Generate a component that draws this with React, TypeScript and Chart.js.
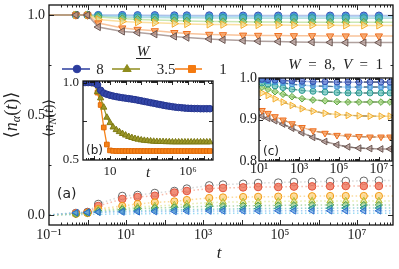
import React, { useEffect, useRef } from 'react';
import { Chart, registerables } from 'chart.js';
Chart.register(...registerables);

// ---------- panel (a): main ----------
const mainTimes = [0.1, 0.5, 1, 1.9, 8, 20, 56, 180, 380, 1450, 3300, 11000, 27000, 90000, 230000, 680000, 2000000, 5100000, 15000000, 37000000, 86000000];
const upDarkBlue = [1, 1, 1, 1, 1, 0.999, 0.999, 0.998, 0.998, 0.998, 0.997, 0.997, 0.997, 0.997, 0.997, 0.997, 0.997, 0.997, 0.997, 0.997, 0.997];
const upBlue = [1, 1, 1, 0.998, 0.996, 0.995, 0.994, 0.993, 0.993, 0.992, 0.992, 0.992, 0.991, 0.991, 0.991, 0.991, 0.991, 0.991, 0.991, 0.991, 0.991];
const upTeal = [1, 1, 1, 0.995, 0.99, 0.988, 0.987, 0.986, 0.986, 0.985, 0.985, 0.985, 0.984, 0.984, 0.984, 0.984, 0.984, 0.984, 0.984, 0.984, 0.984];
const upGreen = [1, 1, 1, 0.99, 0.982, 0.978, 0.975, 0.972, 0.97, 0.968, 0.967, 0.966, 0.965, 0.965, 0.964, 0.964, 0.964, 0.964, 0.964, 0.964, 0.964];
const upLightOrange = [1, 1, 1, 0.978, 0.968, 0.964, 0.961, 0.957, 0.955, 0.953, 0.952, 0.951, 0.95, 0.95, 0.949, 0.949, 0.949, 0.948, 0.948, 0.948, 0.948];
const upOrange = [1, 1, 1, 0.96, 0.935, 0.928, 0.921, 0.912, 0.907, 0.903, 0.901, 0.899, 0.898, 0.897, 0.896, 0.896, 0.895, 0.895, 0.895, 0.895, 0.895];
const upBrown = [1, 1, 1, 0.94, 0.918, 0.912, 0.904, 0.893, 0.887, 0.88, 0.876, 0.872, 0.869, 0.867, 0.865, 0.864, 0.863, 0.862, 0.862, 0.862, 0.862];
const loGray = [0, 0.01, 0.015, 0.055, 0.095, 0.1, 0.11, 0.12, 0.132, 0.148, 0.152, 0.156, 0.16, 0.162, 0.165, 0.166, 0.168, 0.17, 0.171, 0.172, 0.172];
const loRed = [0, 0.008, 0.012, 0.045, 0.08, 0.09, 0.096, 0.112, 0.12, 0.132, 0.135, 0.138, 0.14, 0.14, 0.142, 0.143, 0.144, 0.145, 0.145, 0.145, 0.145];
const loOrange = [0, 0.006, 0.01, 0.03, 0.045, 0.055, 0.063, 0.068, 0.075, 0.085, 0.088, 0.09, 0.091, 0.092, 0.093, 0.094, 0.095, 0.095, 0.095, 0.095, 0.095];
const loOlive = [0, 0.005, 0.01, 0.025, 0.035, 0.04, 0.045, 0.05, 0.055, 0.062, 0.064, 0.066, 0.067, 0.068, 0.069, 0.07, 0.07, 0.07, 0.07, 0.07, 0.07];
const loGreen = [0, 0.005, 0.01, 0.02, 0.028, 0.032, 0.035, 0.038, 0.04, 0.044, 0.045, 0.046, 0.047, 0.048, 0.049, 0.05, 0.05, 0.05, 0.05, 0.05, 0.05];
const loTeal = [0, 0.01, 0.012, 0.015, 0.02, 0.022, 0.024, 0.026, 0.027, 0.029, 0.03, 0.031, 0.032, 0.033, 0.033, 0.034, 0.034, 0.035, 0.035, 0.035, 0.035];
const loBlue = [0, 0.012, 0.013, 0.014, 0.015, 0.016, 0.017, 0.018, 0.019, 0.02, 0.02, 0.02, 0.02, 0.021, 0.021, 0.021, 0.021, 0.021, 0.021, 0.021, 0.021];
const loCyan = [0, 0.002, 0.003, 0.004, 0.005, 0.006, 0.007, 0.007, 0.008, 0.008, 0.008, 0.009, 0.009, 0.009, 0.009, 0.009, 0.009, 0.009, 0.009, 0.009, 0.009];
const mainYTicks = [0, 0.5, 1];
const mainXTickExps = [-1, 1, 3, 5, 7];

// ---------- panel (b): inset ----------
const insetBLogT = [-0.6, -0.4, -0.2, 0, 0.2, 0.4, 0.6, 0.8, 1.0, 1.2, 1.4, 1.6, 1.8, 2.0, 2.2, 2.4, 2.6, 2.8, 3.0, 3.2, 3.4, 3.6, 3.8, 4.0, 4.2, 4.4, 4.6, 4.8, 5.0, 5.2, 5.4, 5.6, 5.8, 6.0, 6.2, 6.4, 6.6, 6.8, 7.0, 7.2, 7.4];
const nW8 = [1, 1, 1, 0.998, 0.985, 0.95, 0.932, 0.924, 0.918, 0.913, 0.909, 0.905, 0.902, 0.899, 0.896, 0.893, 0.89, 0.886, 0.882, 0.878, 0.874, 0.87, 0.866, 0.862, 0.858, 0.854, 0.85, 0.847, 0.844, 0.841, 0.839, 0.837, 0.835, 0.834, 0.833, 0.832, 0.832, 0.831, 0.831, 0.831, 0.831];
const nW35 = [1, 1, 1, 0.99, 0.94, 0.9, 0.84, 0.775, 0.74, 0.712, 0.695, 0.682, 0.67, 0.66, 0.651, 0.644, 0.638, 0.633, 0.629, 0.626, 0.624, 0.622, 0.62, 0.619, 0.618, 0.618, 0.617, 0.617, 0.616, 0.616, 0.616, 0.616, 0.616, 0.616, 0.616, 0.616, 0.616, 0.616, 0.616, 0.616, 0.616];
const nW1 = [1, 1, 1, 0.995, 0.935, 0.855, 0.71, 0.6, 0.562, 0.559, 0.558, 0.558, 0.558, 0.558, 0.558, 0.558, 0.558, 0.558, 0.558, 0.558, 0.558, 0.558, 0.558, 0.558, 0.558, 0.558, 0.558, 0.558, 0.558, 0.558, 0.558, 0.558, 0.558, 0.558, 0.558, 0.558, 0.558, 0.558, 0.558, 0.558, 0.558];
const legendLabels = ['8', '3.5', '1'];

// ---------- panel (c): inset ----------
const insetCLogT = [1.0, 1.15, 1.45, 1.8, 2.2, 2.65, 3.15, 3.7, 4.3, 4.9, 5.45, 6.0, 6.55, 7.1, 7.55, 7.65];
const cDarkBlue = [0.998, 0.997, 0.996, 0.995, 0.994, 0.993, 0.992, 0.991, 0.991, 0.99, 0.99, 0.99, 0.99, 0.99, 0.99, 0.99];
const cBlue = [0.995, 0.994, 0.992, 0.99, 0.988, 0.985, 0.983, 0.981, 0.98, 0.979, 0.978, 0.978, 0.978, 0.978, 0.978, 0.978];
const cTeal = [0.99, 0.988, 0.985, 0.981, 0.977, 0.973, 0.97, 0.968, 0.966, 0.965, 0.964, 0.964, 0.964, 0.964, 0.964, 0.964];
const cGreen = [0.98, 0.978, 0.973, 0.967, 0.961, 0.955, 0.95, 0.947, 0.945, 0.943, 0.942, 0.942, 0.942, 0.942, 0.942, 0.942];
const cLightOrange = [0.968, 0.964, 0.958, 0.95, 0.942, 0.934, 0.926, 0.92, 0.915, 0.912, 0.91, 0.909, 0.908, 0.908, 0.908, 0.908];
const cOrange = [0.926, 0.922, 0.915, 0.907, 0.899, 0.89, 0.881, 0.873, 0.867, 0.862, 0.86, 0.859, 0.858, 0.858, 0.858, 0.858];
const cBrown = [0.912, 0.908, 0.903, 0.897, 0.889, 0.879, 0.868, 0.857, 0.847, 0.839, 0.834, 0.831, 0.83, 0.829, 0.829, 0.829];

// ---------- helpers ----------
const SERIF = '"Liberation Serif", "DejaVu Serif", serif';
const SANS = '"DejaVu Sans", sans-serif';
const SUP: Record<string, string> = { '-': '\u207B', '0': '\u2070', '1': '\u00B9', '2': '\u00B2', '3': '\u00B3', '4': '\u2074', '5': '\u2075', '6': '\u2076', '7': '\u2077', '8': '\u2078', '9': '\u2079' };
const pow10Label = (e: number) => '10' + String(e).split('').map((c) => SUP[c]).join('');

function logMinors(lo: number, hi: number) {
  const out: number[] = [];
  for (let n = lo; n <= hi; n++) for (let k = 2; k <= 9; k++) out.push(k * Math.pow(10, n));
  return out;
}
function decades(lo: number, hi: number) {
  const out: number[] = [];
  for (let n = lo; n <= hi; n++) out.push(Math.pow(10, n));
  return out;
}

type Style = { edge: string; fill: string; line: string; shape: string; rot?: number; r: number; dash?: number[]; lw?: number; hideEnds?: 'first' | 'both' | 'none' };
function series(times: number[], vals: number[], s: Style) {
  const n = vals.length;
  return {
    data: vals.map((v, i) => ({ x: times[i], y: v })),
    borderColor: s.line,
    borderWidth: s.lw ?? 1.5,
    borderDash: s.dash ?? [],
    pointStyle: s.shape,
    pointRotation: s.rot ?? 0,
    pointRadius: (c: any) => {
      const i = c.dataIndex;
      if (s.hideEnds === 'both' && (i === 0 || i === n - 1)) return 0;
      if (s.hideEnds === 'first' && i === 0) return 0;
      return s.r;
    },
    pointBorderColor: s.edge,
    pointBackgroundColor: s.fill,
    pointBorderWidth: 1,
    tension: 0,
    fill: false,
  };
}

type Part = [string, string, number];
function drawRich(ctx: CanvasRenderingContext2D, x: number, y: number, parts: Part[], align: 'left' | 'center' | 'right') {
  let w = 0;
  for (const [t, f] of parts) { ctx.font = f; w += ctx.measureText(t).width; }
  let cx = align === 'left' ? x : align === 'center' ? x - w / 2 : x - w;
  ctx.textAlign = 'left';
  ctx.textBaseline = 'alphabetic';
  for (const [t, f, dy] of parts) { ctx.font = f; ctx.fillText(t, cx, y + dy); cx += ctx.measureText(t).width; }
}

type Deco = { xMajor: number[]; xMinor: number[]; yMajor: number[]; yMinor: number[]; majLen: number; minLen: number; white?: boolean; extra?: (c: any) => void };
function decoPlugin(d: Deco) {
  return {
    id: 'deco',
    beforeDraw(chart: any) {
      if (!d.white) return;
      const { ctx, chartArea: a } = chart;
      ctx.save();
      ctx.fillStyle = '#fff';
      ctx.fillRect(a.left, a.top, a.right - a.left, a.bottom - a.top);
      ctx.restore();
    },
    afterDraw(chart: any) {
      const { ctx, chartArea: a, scales } = chart;
      const xs = scales.x, ys = scales.y;
      ctx.save();
      ctx.strokeStyle = '#111';
      ctx.lineWidth = 0.9;
      ctx.beginPath();
      const tickX = (v: number, len: number) => {
        const p = Math.round(xs.getPixelForValue(v)) + 0.5;
        if (p < a.left + 1 || p > a.right - 1) return;
        ctx.moveTo(p, a.bottom); ctx.lineTo(p, a.bottom - len);
        ctx.moveTo(p, a.top); ctx.lineTo(p, a.top + len);
      };
      const tickY = (v: number, len: number) => {
        const p = Math.round(ys.getPixelForValue(v)) + 0.5;
        if (p < a.top + 1 || p > a.bottom - 1) return;
        ctx.moveTo(a.left, p); ctx.lineTo(a.left + len, p);
        ctx.moveTo(a.right, p); ctx.lineTo(a.right - len, p);
      };
      d.xMajor.forEach((v) => tickX(v, d.majLen));
      d.xMinor.forEach((v) => tickX(v, d.minLen));
      d.yMajor.forEach((v) => tickY(v, d.majLen));
      d.yMinor.forEach((v) => tickY(v, d.minLen));
      ctx.stroke();
      ctx.lineWidth = 1.3;
      ctx.strokeRect(a.left, a.top, a.right - a.left, a.bottom - a.top);
      ctx.restore();
      if (d.extra) { ctx.save(); ctx.fillStyle = '#222'; d.extra(chart); ctx.restore(); }
    },
  };
}

function baseOptions(W: number, H: number, box: { left: number; top: number; right: number; bottom: number }, x: any, y: any) {
  return {
    responsive: false,
    maintainAspectRatio: false,
    animation: false,
    devicePixelRatio: 1,
    events: [],
    layout: { padding: { top: box.top, right: W - box.right, left: 0, bottom: 0 } },
    plugins: { legend: { display: false }, tooltip: { enabled: false } },
    scales: {
      x: {
        ...x,
        grid: { display: false, drawTicks: false },
        border: { display: false },
        afterFit: (s: any) => { s.height = H - box.bottom; s.paddingLeft = 0; s.paddingRight = 0; },
      },
      y: {
        ...y,
        grid: { display: false, drawTicks: false },
        border: { display: false },
        afterFit: (s: any) => { s.width = box.left; s.paddingTop = 0; s.paddingBottom = 0; },
      },
    },
  };
}

// colours
const C = {
  darkBlue: '#3550b0', blue: '#3a8fd8', teal: '#2a9a94', green: '#5fa843', lightOrange: '#f5ad2c', orange: '#ee6e1e', brown: '#6a5550',
};

function mainConfig(): any {
  const W = 399, H = 269;
  const box = { left: 49, top: 5, right: 393, bottom: 225 };
  const up = [
    series(mainTimes, upBrown, { edge: C.brown, fill: 'rgba(175,150,145,0.7)', line: 'rgba(150,130,125,0.75)', shape: 'triangle', rot: 270, r: 4.2, hideEnds: 'both' }),
    series(mainTimes, upOrange, { edge: C.orange, fill: 'rgba(245,150,80,0.7)', line: 'rgba(245,175,120,0.75)', shape: 'triangle', rot: 180, r: 4.2, hideEnds: 'both' }),
    series(mainTimes, upLightOrange, { edge: C.lightOrange, fill: 'rgba(255,230,160,0.6)', line: 'rgba(250,210,120,0.7)', shape: 'triangle', rot: 90, r: 4.2, hideEnds: 'both' }),
    series(mainTimes, upGreen, { edge: C.green, fill: 'rgba(150,205,110,0.65)', line: 'rgba(165,215,130,0.6)', shape: 'rectRot', r: 3.8, hideEnds: 'both' }),
    series(mainTimes, upTeal, { edge: C.teal, fill: 'rgba(80,185,175,0.65)', line: 'rgba(120,200,195,0.55)', shape: 'circle', r: 3.6, hideEnds: 'both' }),
    series(mainTimes, upBlue, { edge: C.blue, fill: 'rgba(90,170,235,0.7)', line: 'rgba(130,195,240,0.55)', shape: 'circle', r: 3.6, hideEnds: 'both' }),
    series(mainTimes, upDarkBlue, { edge: C.darkBlue, fill: 'rgba(70,100,200,0.75)', line: 'rgba(120,145,215,0.55)', shape: 'circle', r: 3.6, hideEnds: 'both' }),
  ];
  const dot = [1.5, 2.5];
  const lo = [
    series(mainTimes, loBlue, { edge: '#2c6ccc', fill: 'rgba(90,150,230,0.6)', line: 'rgba(140,190,240,0.8)', shape: 'triangle', rot: 270, r: 3.8, dash: dot, hideEnds: 'both' }),
    series(mainTimes, loTeal, { edge: '#21908c', fill: 'rgba(90,185,180,0.6)', line: 'rgba(130,205,200,0.8)', shape: 'triangle', rot: 270, r: 3.8, dash: dot, hideEnds: 'both' }),
    series(mainTimes, loGreen, { edge: '#4c9a50', fill: 'rgba(140,200,130,0.6)', line: 'rgba(160,210,150,0.8)', shape: 'rectRot', r: 3.6, dash: dot, hideEnds: 'both' }),
    series(mainTimes, loOlive, { edge: '#b3bb35', fill: 'rgba(215,220,120,0.6)', line: 'rgba(225,230,150,0.8)', shape: 'triangle', r: 3.8, dash: dot, hideEnds: 'both' }),
    series(mainTimes, loOrange, { edge: '#f29a12', fill: 'rgba(250,200,100,0.6)', line: 'rgba(250,210,130,0.8)', shape: 'circle', r: 3.6, dash: dot, hideEnds: 'both' }),
    series(mainTimes, loRed, { edge: '#e2533c', fill: 'rgba(240,125,100,0.85)', line: 'rgba(245,170,150,0.8)', shape: 'circle', r: 3.8, dash: dot, hideEnds: 'both' }),
    series(mainTimes, loGray, { edge: '#666', fill: 'rgba(255,255,255,0.85)', line: 'rgba(200,200,200,0.7)', shape: 'circle', r: 3.8, dash: dot, hideEnds: 'both' }),
    series(mainTimes, loCyan, { edge: '#88d3ee', fill: '#88d3ee', line: 'rgba(130,210,240,0.8)', shape: 'circle', r: 0, dash: dot, hideEnds: 'both' }),
  ];
  const extra = (chart: any) => {
    const ctx: CanvasRenderingContext2D = chart.ctx;
    // y-axis title
    ctx.save();
    ctx.translate(17, 115);
    ctx.rotate(-Math.PI / 2);
    drawRich(ctx, 0, 0, [['\u27E8', `18px ${SERIF}`, 0], ['n', `italic 18px ${SERIF}`, 0], ['\u03B1', `italic 12px ${SERIF}`, 3], ['(', `18px ${SERIF}`, 0], ['t', `italic 18px ${SERIF}`, 0], [')\u27E9', `18px ${SERIF}`, 0]], 'center');
    ctx.restore();
    // x-axis title
    drawRich(ctx, 219, 258, [['t', `italic 17px ${SERIF}`, 0]], 'center');
    // panel label
    drawRich(ctx, 57, 198, [['(a)', `14px ${SANS}`, 0]], 'left');
    // annotation
    drawRich(ctx, 383, 69, [['W', `italic 15px ${SERIF}`, 0], ['\u2002=\u20028,  ', `15px ${SERIF}`, 0], ['V', `italic 15px ${SERIF}`, 0], ['\u2002=\u20021', `15px ${SERIF}`, 0]], 'right');
    // legend
    drawRich(ctx, 143, 56, [['W', `italic 15px ${SERIF}`, 0]], 'center');
    ctx.strokeStyle = '#222'; ctx.lineWidth = 1;
    ctx.beginPath(); ctx.moveTo(136, 58.5); ctx.lineTo(151, 58.5); ctx.stroke();
    const items = [
      { x0: 62, x1: 90, m: 77, col: '#2b3c9e', shape: 'circle', label: legendLabels[0], lx: 100 },
      { x0: 112, x1: 140, m: 127, col: '#8f8c1e', shape: 'tri', label: legendLabels[1], lx: 166 },
      { x0: 175, x1: 202, m: 192, col: '#f47a10', shape: 'rect', label: legendLabels[2], lx: 223 },
    ];
    const ly = 69;
    for (const it of items) {
      ctx.strokeStyle = it.col; ctx.lineWidth = 1.5;
      ctx.beginPath(); ctx.moveTo(it.x0, ly); ctx.lineTo(it.x1, ly); ctx.stroke();
      ctx.fillStyle = it.col; ctx.strokeStyle = it.col; ctx.lineWidth = 1;
      ctx.beginPath();
      if (it.shape === 'circle') ctx.arc(it.m, ly, 3.8, 0, Math.PI * 2);
      else if (it.shape === 'rect') ctx.rect(it.m - 3.5, ly - 3.5, 7, 7);
      else { ctx.moveTo(it.m, ly - 4.5); ctx.lineTo(it.m + 4.2, ly + 2.5); ctx.lineTo(it.m - 4.2, ly + 2.5); ctx.closePath(); }
      ctx.fill(); ctx.stroke();
      ctx.fillStyle = '#222';
      drawRich(ctx, it.lx, ly + 5, [[it.label, `15px ${SERIF}`, 0]], 'center');
    }
  };
  const opts = baseOptions(W, H, box,
    {
      type: 'logarithmic', min: mainTimes[0], max: mainTimes[mainTimes.length - 1],
      afterBuildTicks: (s: any) => { s.ticks = mainXTickExps.map((e) => ({ value: Math.pow(10, e) })); },
      ticks: { callback: (v: any) => pow10Label(Math.round(Math.log10(v))), font: { family: SERIF, size: 14 }, color: '#222', padding: 2, maxRotation: 0, autoSkip: false },
    },
    {
      type: 'linear', min: -0.05, max: 1.05,
      afterBuildTicks: (s: any) => { s.ticks = mainYTicks.map((v) => ({ value: v })); },
      ticks: { callback: (v: any) => Number(v).toFixed(1), font: { family: SERIF, size: 14 }, color: '#222', padding: 4 },
    });
  return {
    type: 'line',
    data: { datasets: [...up, ...lo] },
    options: opts,
    plugins: [decoPlugin({ xMajor: decades(-1, 7), xMinor: logMinors(-1, 7), yMajor: mainYTicks, yMinor: [0.25, 0.75], majLen: 5, minLen: 2.5, extra })],
  };
}

function insetBConfig(): any {
  const W = 178, H = 122;
  const box = { left: 43, top: 16, right: 173, bottom: 95 };
  const t = insetBLogT.map((l) => Math.pow(10, l));
  const ds = [
    series(t, nW8, { edge: '#25358f', fill: '#3346a8', line: '#3346a8', shape: 'circle', r: 3.3, lw: 1.3, hideEnds: 'none' }),
    series(t, nW35, { edge: '#7e7b14', fill: '#9a9628', line: '#9a9628', shape: 'triangle', r: 3.6, lw: 1.3, hideEnds: 'none' }),
    series(t, nW1, { edge: '#e06a08', fill: '#f58218', line: '#f58218', shape: 'rect', r: 3.3, lw: 1.3, hideEnds: 'none' }),
  ];
  const extra = (chart: any) => {
    const ctx: CanvasRenderingContext2D = chart.ctx;
    ctx.save();
    ctx.translate(13, 53);
    ctx.rotate(-Math.PI / 2);
    drawRich(ctx, 0, 0, [['\u27E8', `14px ${SERIF}`, 0], ['n', `italic 14px ${SERIF}`, 0], ['N', `italic 10px ${SERIF}`, 3], ['(', `14px ${SERIF}`, 0], ['t', `italic 14px ${SERIF}`, 0], [')\u27E9', `14px ${SERIF}`, 0]], 'center');
    ctx.restore();
    drawRich(ctx, 108, 112, [['t', `italic 15px ${SERIF}`, 0]], 'center');
    drawRich(ctx, 46, 89, [['(b)', `12px ${SANS}`, 0]], 'left');
  };
  const opts = baseOptions(W, H, box,
    {
      type: 'logarithmic', min: Math.pow(10, -0.73), max: Math.pow(10, 7.6),
      afterBuildTicks: (s: any) => { s.ticks = [{ value: 10 }, { value: 1e6 }]; },
      ticks: { callback: (v: any) => (v === 10 ? '10' : pow10Label(Math.round(Math.log10(v)))), font: { family: SERIF, size: 13 }, color: '#222', padding: 4, maxRotation: 0, autoSkip: false },
    },
    {
      type: 'linear', min: 0.5, max: 1.01,
      afterBuildTicks: (s: any) => { s.ticks = [{ value: 0.5 }, { value: 1.0 }]; },
      ticks: { callback: (v: any) => Number(v).toFixed(1), font: { family: SERIF, size: 13 }, color: '#222', padding: 4 },
    });
  return {
    type: 'line',
    data: { datasets: ds },
    options: opts,
    plugins: [decoPlugin({ xMajor: decades(0, 7), xMinor: logMinors(-1, 7), yMajor: [0.5, 0.75, 1.0], yMinor: [], majLen: 4, minLen: 2, white: true, extra })],
  };
}

function insetCConfig(): any {
  const W = 174, H = 115;
  const box = { left: 34, top: 8, right: 167, bottom: 91 };
  const t = insetCLogT.map((l) => Math.pow(10, l));
  const list: Array<[number[], Style]> = [
    [cDarkBlue, { edge: C.darkBlue, fill: 'rgba(70,100,200,0.6)', line: 'rgba(120,145,215,0.6)', shape: 'circle', r: 3, hideEnds: 'both' }],
    [cBlue, { edge: C.blue, fill: 'rgba(90,170,235,0.6)', line: 'rgba(130,195,240,0.6)', shape: 'rect', r: 3, hideEnds: 'both' }],
    [cTeal, { edge: C.teal, fill: 'rgba(80,185,175,0.6)', line: 'rgba(120,200,195,0.6)', shape: 'circle', r: 3, hideEnds: 'both' }],
    [cGreen, { edge: C.green, fill: 'rgba(150,205,110,0.65)', line: 'rgba(165,215,130,0.7)', shape: 'rectRot', r: 3.3, hideEnds: 'both' }],
    [cLightOrange, { edge: C.lightOrange, fill: 'rgba(255,230,160,0.6)', line: 'rgba(250,210,120,0.8)', shape: 'triangle', rot: 90, r: 3.8, hideEnds: 'both' }],
    [cOrange, { edge: C.orange, fill: 'rgba(245,150,80,0.7)', line: 'rgba(245,175,120,0.8)', shape: 'triangle', rot: 180, r: 3.8, hideEnds: 'both' }],
    [cBrown, { edge: C.brown, fill: 'rgba(175,150,145,0.7)', line: 'rgba(150,130,125,0.8)', shape: 'triangle', rot: 270, r: 3.8, hideEnds: 'both' }],
  ];
  const markers = list.map(([v, s]) => series(t, v, s));
  const fits = list.map(([v]) => ({
    data: v.map((y, i) => ({ x: t[i], y })).filter((_, i) => i >= 4),
    borderColor: '#000', borderWidth: 1.1, borderDash: [5, 4], pointRadius: 0, tension: 0, fill: false,
  }));
  const extra = (chart: any) => {
    drawRich(chart.ctx, 38, 85, [['(c)', `12px ${SANS}`, 0]], 'left');
  };
  const opts = baseOptions(W, H, box,
    {
      type: 'logarithmic', min: 10, max: Math.pow(10, 7.65),
      afterBuildTicks: (s: any) => { s.ticks = [1, 3, 5, 7].map((e) => ({ value: Math.pow(10, e) })); },
      ticks: { callback: (v: any) => pow10Label(Math.round(Math.log10(v))), font: { family: SERIF, size: 14 }, color: '#222', padding: 0, maxRotation: 0, autoSkip: false },
    },
    {
      type: 'linear', min: 0.8, max: 1.0,
      afterBuildTicks: (s: any) => { s.ticks = [0.8, 0.9, 1.0].map((v) => ({ value: v })); },
      ticks: { callback: (v: any) => Number(v).toFixed(1), font: { family: SERIF, size: 14 }, color: '#222', padding: 2 },
    });
  return {
    type: 'line',
    data: { datasets: [...markers, ...fits] },
    options: opts,
    plugins: [decoPlugin({ xMajor: decades(1, 7), xMinor: logMinors(1, 7), yMajor: [0.8, 0.9, 1.0], yMinor: [0.85, 0.95], majLen: 4, minLen: 2, white: true, extra })],
  };
}

export default function App() {
  const mainRef = useRef<HTMLCanvasElement>(null);
  const bRef = useRef<HTMLCanvasElement>(null);
  const cRef = useRef<HTMLCanvasElement>(null);
  useEffect(() => {
    document.body.style.margin = '0';
    const charts = [
      new Chart(mainRef.current as HTMLCanvasElement, mainConfig()),
      new Chart(bRef.current as HTMLCanvasElement, insetBConfig()),
      new Chart(cRef.current as HTMLCanvasElement, insetCConfig()),
    ];
    return () => charts.forEach((c) => c.destroy());
  }, []);
  return (
    <div style={{ position: 'relative', width: 399, height: 269, background: '#fff', overflow: 'hidden' }}>
      <canvas ref={mainRef} width={399} height={269} style={{ position: 'absolute', left: 0, top: 0, width: 399, height: 269 }} />
      <canvas ref={bRef} width={178} height={122} style={{ position: 'absolute', left: 40, top: 65, width: 178, height: 122 }} />
      <canvas ref={cRef} width={174} height={115} style={{ position: 'absolute', left: 225, top: 70, width: 174, height: 115 }} />
    </div>
  );
}
